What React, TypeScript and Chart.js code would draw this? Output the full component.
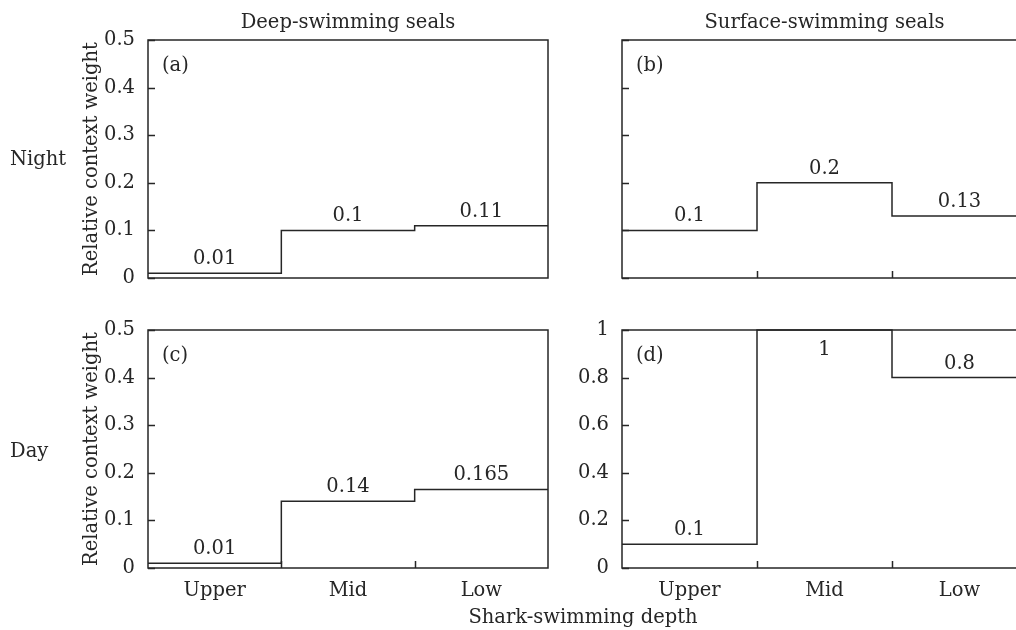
import React, { useEffect, useRef } from "react";
import { Chart, registerables } from "chart.js";

Chart.register(...registerables);

// ---- data ----
const depths = ["Upper", "Mid", "Low"];
const deepNight = [0.01, 0.1, 0.11];
const surfaceNight = [0.1, 0.2, 0.13];
const deepDay = [0.01, 0.14, 0.165];
const surfaceDay = [0.1, 1, 0.8];
const rowLabels = ["Night", "Day"];
const columnTitles = ["Deep-swimming seals", "Surface-swimming seals"];
const yTitle = "Relative context weight";
const xTitle = "Shark-swimming depth";

// ---- style ----
const FONT = "'DejaVu Serif', serif";
const FS = 19.5;
const INK = "#262626";

type Panel = {
  letter: string;
  values: number[];
  yMax: number;
  yStep: number;
  showYLabels: boolean;
  showYTitle: boolean;
  showXLabels: boolean;
  xTicks: boolean;
  cx: number;
  cy: number;
  cw: number;
  ch: number;
  yAxisW: number;
  xAxisH: number;
  pad: { left: number; top: number; right: number; bottom: number };
};

const panels: Panel[] = [
  {
    letter: "a", values: deepNight, yMax: 0.5, yStep: 0.1,
    showYLabels: true, showYTitle: true, showXLabels: false, xTicks: false,
    cx: 0, cy: 0, cw: 560, ch: 300, yAxisW: 148, xAxisH: 22,
    pad: { left: 0, top: 40, right: 12, bottom: 0 },
  },
  {
    letter: "b", values: surfaceNight, yMax: 0.5, yStep: 0.1,
    showYLabels: false, showYTitle: false, showXLabels: false, xTicks: true,
    cx: 480, cy: 0, cw: 560, ch: 300, yAxisW: 142, xAxisH: 22,
    pad: { left: 0, top: 40, right: 13, bottom: 0 },
  },
  {
    letter: "c", values: deepDay, yMax: 0.5, yStep: 0.1,
    showYLabels: true, showYTitle: true, showXLabels: true, xTicks: true,
    cx: 0, cy: 310, cw: 560, ch: 320, yAxisW: 148, xAxisH: 40,
    pad: { left: 0, top: 20, right: 12, bottom: 22 },
  },
  {
    letter: "d", values: surfaceDay, yMax: 1, yStep: 0.2,
    showYLabels: true, showYTitle: false, showXLabels: true, xTicks: true,
    cx: 480, cy: 310, cw: 560, ch: 320, yAxisW: 142, xAxisH: 40,
    pad: { left: 0, top: 20, right: 13, bottom: 22 },
  },
];

function makeDecorPlugin(p: Panel) {
  return {
    id: "decor-" + p.letter,
    afterDatasetsDraw(chart: any) {
      const { ctx, chartArea: a, scales } = chart;
      const x = scales.x;
      const y = scales.y;
      ctx.save();
      ctx.strokeStyle = INK;
      ctx.lineWidth = 1.5;
      ctx.strokeRect(a.left, a.top, a.right - a.left, a.bottom - a.top);
      // inward y ticks
      ctx.beginPath();
      y.ticks.forEach((t: any) => {
        const py = Math.round(y.getPixelForValue(t.value)) + 0.5;
        ctx.moveTo(a.left, py);
        ctx.lineTo(a.left + 7, py);
      });
      // inward x ticks at category boundaries
      if (p.xTicks) {
        for (let i = 1; i < depths.length; i++) {
          const px = Math.round(x.getPixelForValue(i)) + 0.5;
          ctx.moveTo(px, a.bottom);
          ctx.lineTo(px, a.bottom - 7);
        }
      }
      ctx.stroke();
      // value labels
      ctx.fillStyle = INK;
      ctx.font = `${FS}px ${FONT}`;
      ctx.textAlign = "center";
      p.values.forEach((v, i) => {
        const px = x.getPixelForValue(i + 0.5);
        const py = y.getPixelForValue(v);
        if (v >= p.yMax - 1e-9) {
          ctx.textBaseline = "top";
          ctx.fillText(String(v), px, py + 10);
        } else {
          ctx.textBaseline = "alphabetic";
          ctx.fillText(String(v), px, py - 9);
        }
      });
      // panel letter
      ctx.textAlign = "left";
      ctx.textBaseline = "alphabetic";
      ctx.fillText(`(${p.letter})`, a.left + 14, a.top + 31);
      ctx.restore();
    },
  };
}

function PanelChart({ p }: { p: Panel }) {
  const ref = useRef<HTMLCanvasElement>(null);
  useEffect(() => {
    const pts = p.values.map((v, i) => ({ x: i, y: v }));
    pts.push({ x: p.values.length, y: p.values[p.values.length - 1] });
    const chart = new Chart(ref.current as HTMLCanvasElement, {
      type: "line",
      data: {
        datasets: [
          {
            data: pts,
            stepped: "before",
            borderColor: INK,
            borderWidth: 1.5,
            pointRadius: 0,
            fill: false,
            clip: false as any,
          },
        ],
      },
      options: {
        responsive: false,
        animation: false,
        devicePixelRatio: 1,
        events: [],
        layout: { padding: p.pad },
        plugins: { legend: { display: false }, tooltip: { enabled: false }, title: { display: false } },
        scales: {
          x: {
            type: "linear",
            min: 0,
            max: depths.length,
            grid: { display: false },
            border: { display: false },
            afterBuildTicks: (s: any) => {
              s.ticks = depths.map((_, i) => ({ value: i + 0.5 }));
            },
            afterFit: (s: any) => {
              s.height = p.xAxisH;
            },
            ticks: {
              display: p.showXLabels,
              autoSkip: false,
              maxRotation: 0,
              padding: 3,
              color: INK,
              font: { family: FONT, size: FS },
              callback: (_v: any, i: number) => depths[i],
            },
          },
          y: {
            type: "linear",
            min: 0,
            max: p.yMax,
            grid: { display: false },
            border: { display: false },
            afterFit: (s: any) => {
              s.width = p.yAxisW;
            },
            ticks: {
              display: p.showYLabels,
              stepSize: p.yStep,
              padding: 5,
              color: INK,
              font: { family: FONT, size: FS },
              callback: (v: any) => String(Math.round(Number(v) * 100) / 100),
            },
            title: {
              display: p.showYTitle,
              text: yTitle,
              color: INK,
              font: { family: FONT, size: FS },
              padding: { top: 80, bottom: 0 },
            },
          },
        },
      },
      plugins: [makeDecorPlugin(p)],
    });
    return () => chart.destroy();
  }, [p]);
  return (
    <canvas
      ref={ref}
      width={p.cw}
      height={p.ch}
      style={{ position: "absolute", left: p.cx, top: p.cy, width: p.cw, height: p.ch }}
    />
  );
}

const textStyle: React.CSSProperties = {
  position: "absolute",
  fontFamily: FONT,
  fontSize: FS,
  lineHeight: "22px",
  color: INK,
  whiteSpace: "nowrap",
};

export default function App() {
  return (
    <div
      style={{
        position: "absolute",
        left: 0,
        top: 0,
        width: 1016,
        height: 630,
        overflow: "hidden",
        background: "#fff",
      }}
    >
      {panels.map((p) => (
        <PanelChart key={p.letter} p={p} />
      ))}
      <div style={{ ...textStyle, left: 148, top: 11, width: 400, textAlign: "center" }}>{columnTitles[0]}</div>
      <div style={{ ...textStyle, left: 622, top: 11, width: 405, textAlign: "center" }}>{columnTitles[1]}</div>
      <div style={{ ...textStyle, left: 10, top: 148 }}>{rowLabels[0]}</div>
      <div style={{ ...textStyle, left: 10, top: 440 }}>{rowLabels[1]}</div>
      <div style={{ ...textStyle, left: 383, top: 606, width: 400, textAlign: "center" }}>{xTitle}</div>
    </div>
  );
}
